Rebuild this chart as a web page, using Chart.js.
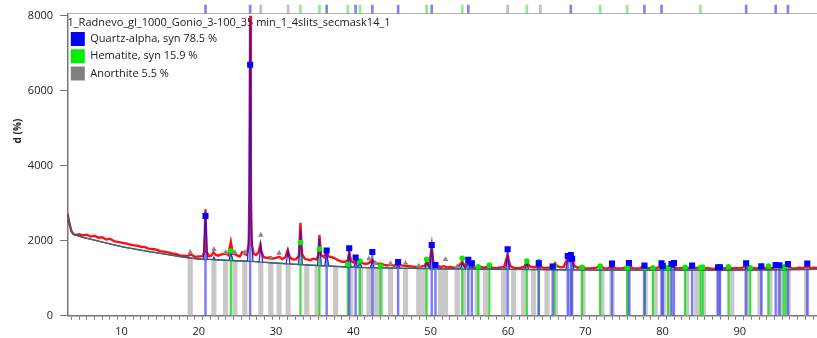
<!DOCTYPE html>
<html>
<head>
<meta charset="utf-8">
<script src="https://cdn.jsdelivr.net/npm/chart.js@4/dist/chart.umd.min.js"></script>
<style>
  html, body { margin: 0; padding: 0; background: #ffffff; }
  #grafico-wrap { width: 817px; height: 338px; }
</style>
</head>
<body>
<div id="grafico-wrap"><canvas id="grafico-xrd" width="817" height="338"></canvas></div>
<script>
// Padrão medido (2theta, contagens)
const medido = [
  [3.0, 2720], [3.25, 2450], [3.5, 2250], [3.75, 2180], [4.0, 2150], [4.5, 2170], [5.0, 2140], [5.5, 2160],
  [6.0, 2110], [6.5, 2130], [7.0, 2080], [7.5, 2090], [8.0, 2030], [8.5, 2050], [9.0, 1990], [9.5, 1970],
  [10.0, 1950], [10.5, 1930], [11.0, 1900], [11.5, 1880], [12.0, 1870], [12.5, 1840], [13.0, 1830], [13.5, 1790],
  [14.0, 1780], [14.5, 1760], [15.0, 1720], [15.5, 1710], [16.0, 1690], [16.5, 1660], [17.0, 1650], [17.5, 1610],
  [18.0, 1600], [18.5, 1590], [19.0, 1630], [19.5, 1570], [20.0, 1580], [20.5, 1590], [20.7, 1700], [20.86, 2840],
  [21.0, 1700], [21.3, 1590], [21.6, 1600], [21.9, 1690], [22.2, 1620], [22.5, 1600], [23.0, 1640], [23.5, 1660],
  [23.8, 1620], [24.14, 1970], [24.4, 1650], [24.7, 1640], [25.0, 1600], [25.3, 1580], [25.6, 1690], [25.9, 1650],
  [26.2, 1620], [26.45, 1900], [26.55, 3400], [26.64, 8000], [26.73, 3300], [26.85, 1900], [27.1, 1650], [27.4, 1620],
  [27.7, 1680], [27.95, 1890], [28.1, 1700], [28.4, 1560], [28.8, 1540], [29.3, 1560], [29.6, 1520], [30.0, 1540],
  [30.4, 1570], [30.8, 1510], [31.2, 1560], [31.5, 1750], [31.8, 1540], [32.2, 1500], [32.6, 1510], [32.95, 1600],
  [33.15, 2480], [33.35, 1650], [33.7, 1520], [34.0, 1500], [34.4, 1480], [34.8, 1520], [35.2, 1500], [35.45, 1600],
  [35.61, 2150], [35.8, 1620], [36.2, 1560], [36.54, 1720], [36.8, 1580], [37.2, 1560], [37.6, 1530], [38.0, 1480],
  [38.5, 1440], [39.0, 1440], [39.28, 1480], [39.46, 1690], [39.7, 1460], [40.0, 1420], [40.29, 1480], [40.6, 1420],
  [40.85, 1460], [41.2, 1400], [41.6, 1380], [42.0, 1400], [42.45, 1490], [42.8, 1400], [43.2, 1380], [43.52, 1390],
  [43.9, 1360], [44.3, 1340], [44.8, 1360], [45.3, 1330], [45.79, 1400], [46.2, 1340], [46.7, 1330], [47.2, 1320],
  [47.7, 1310], [48.2, 1300], [48.7, 1310], [49.2, 1330], [49.48, 1440], [49.8, 1330], [50.14, 1860], [50.35, 1390],
  [50.62, 1400], [50.9, 1320], [51.3, 1300], [51.7, 1320], [52.1, 1290], [52.5, 1300], [53.0, 1280], [53.5, 1290],
  [54.09, 1440], [54.4, 1320], [54.87, 1480], [55.1, 1360], [55.33, 1390], [55.6, 1290], [56.0, 1280], [56.5, 1300],
  [57.0, 1280], [57.59, 1330], [58.0, 1280], [58.5, 1270], [59.0, 1290], [59.5, 1300], [59.96, 1620], [60.3, 1320],
  [60.7, 1280], [61.2, 1270], [61.7, 1280], [62.1, 1300], [62.45, 1430], [62.8, 1320], [63.2, 1290], [63.6, 1290],
  [63.99, 1400], [64.4, 1290], [64.8, 1270], [65.3, 1280], [65.79, 1330], [66.1, 1400], [66.4, 1320], [66.8, 1290],
  [67.2, 1300], [67.74, 1540], [67.95, 1480], [68.14, 1560], [68.31, 1500], [68.6, 1330], [69.0, 1280], [69.6, 1310],
  [70.0, 1270], [70.5, 1260], [71.0, 1270], [71.5, 1280], [71.94, 1330], [72.4, 1270], [72.9, 1260], [73.47, 1330],
  [73.9, 1270], [74.4, 1260], [74.9, 1270], [75.3, 1290], [75.66, 1350], [76.1, 1270], [76.6, 1260], [77.1, 1270],
  [77.67, 1320], [78.1, 1260], [78.6, 1280], [79.1, 1270], [79.5, 1290], [79.88, 1360], [80.2, 1310], [80.7, 1290],
  [81.17, 1330], [81.49, 1310], [81.9, 1260], [82.4, 1270], [82.9, 1280], [83.3, 1260], [83.84, 1310], [84.3, 1270],
  [84.9, 1290], [85.4, 1260], [85.9, 1270], [86.4, 1250], [86.9, 1260], [87.44, 1300], [87.9, 1260], [88.5, 1280],
  [89.0, 1260], [89.5, 1270], [90.0, 1260], [90.4, 1280], [90.83, 1330], [91.3, 1280], [91.8, 1270], [92.3, 1260],
  [92.79, 1300], [93.3, 1270], [93.8, 1280], [94.3, 1270], [94.65, 1300], [95.14, 1290], [95.6, 1270], [96.0, 1280],
  [96.24, 1310], [96.7, 1270], [97.2, 1260], [97.7, 1280], [98.2, 1270], [98.74, 1320], [99.2, 1270], [99.6, 1280],
  [100.0, 1270]
];

// Perfil calculado
const calculado = [
  [3.0, 2700], [3.3, 2450], [3.6, 2220], [3.9, 2160], [5.0, 2090], [7.0, 1990], [10.0, 1840], [13.0, 1730],
  [16.0, 1630], [18.0, 1560], [20.0, 1512], [20.6, 1505], [20.86, 2750], [21.1, 1505], [21.8, 1500], [21.95, 1560],
  [22.1, 1498], [23.9, 1475], [24.14, 1700], [24.4, 1472], [26.3, 1455], [26.5, 2300], [26.64, 7900], [26.78, 2300],
  [27.0, 1450], [27.8, 1435], [28.02, 1880], [28.25, 1430], [31.3, 1385], [31.55, 1730], [31.8, 1380], [32.9, 1365],
  [33.15, 2280], [33.4, 1360], [35.35, 1340], [35.61, 2050], [35.85, 1336], [36.3, 1332], [36.54, 1680], [36.8, 1328],
  [39.2, 1300], [39.46, 1650], [39.7, 1297], [40.05, 1294], [40.29, 1440], [40.55, 1290], [40.85, 1420], [41.1, 1288],
  [42.2, 1283], [42.45, 1470], [42.7, 1282], [45.55, 1270], [45.79, 1380], [46.05, 1268], [49.25, 1256], [49.48, 1400],
  [49.9, 1254], [50.14, 1800], [50.4, 1253], [50.62, 1340], [50.85, 1252], [53.85, 1247], [54.09, 1400], [54.5, 1246],
  [54.87, 1440], [55.1, 1245], [55.33, 1340], [55.55, 1244], [59.7, 1238], [59.96, 1580], [60.2, 1237], [62.2, 1234],
  [62.45, 1390], [62.7, 1233], [63.75, 1231], [63.99, 1360], [64.25, 1230], [67.5, 1226], [67.74, 1500], [67.95, 1440],
  [68.14, 1520], [68.31, 1470], [68.55, 1224], [73.2, 1217], [73.47, 1300], [73.7, 1217], [75.4, 1215], [75.66, 1320],
  [75.9, 1215], [79.6, 1212], [79.88, 1330], [80.2, 1212], [81.0, 1212], [81.17, 1300], [81.49, 1290], [81.7, 1212],
  [90.6, 1218], [90.83, 1300], [91.1, 1218], [100.0, 1235]
];

// Linha de fundo (background)
const fundo = [
  [3.0, 2700], [3.3, 2450], [3.6, 2220], [3.9, 2160], [5.0, 2090], [6.0, 2040], [7.0, 1990], [8.0, 1940],
  [9.0, 1890], [10.0, 1840], [11.0, 1800], [12.0, 1765], [13.0, 1730], [14.0, 1695], [15.0, 1664], [16.0, 1630],
  [17.0, 1595], [18.0, 1560], [19.0, 1530], [20.0, 1512], [22.0, 1490], [24.0, 1470], [26.0, 1455], [28.0, 1430],
  [30.0, 1400], [32.0, 1375], [34.0, 1350], [36.0, 1330], [38.0, 1310], [40.0, 1290], [45.0, 1270], [50.0, 1253],
  [55.0, 1245], [60.0, 1237], [65.0, 1228], [70.0, 1220], [75.0, 1215], [80.0, 1212], [85.0, 1212], [90.0, 1218],
  [95.0, 1225], [100.0, 1235]
];

// Fases de referência (posição, intensidade)
const quartzo = [
  [20.86, 2660], [26.64, 6690], [36.54, 1740], [39.46, 1800], [40.29, 1550], [42.45, 1700], [45.79, 1430],
  [50.14, 1885], [50.62, 1350], [54.87, 1490], [55.33, 1400], [59.96, 1770], [63.99, 1400], [65.79, 1310],
  [67.74, 1590], [68.14, 1620], [68.31, 1520], [73.47, 1390], [75.66, 1405], [77.67, 1335], [79.88, 1400],
  [80.04, 1325], [81.17, 1380], [81.49, 1405], [83.84, 1335], [87.2, 1290], [87.44, 1290], [90.83, 1400],
  [92.79, 1320], [94.65, 1350], [95.14, 1345], [96.24, 1380], [98.74, 1390]
];
const hematita = [
  [24.14, 1725], [33.15, 1950], [35.61, 1780], [39.28, 1370], [40.85, 1460], [43.52, 1325], [49.48, 1505],
  [54.09, 1530], [56.15, 1307], [57.59, 1352], [62.45, 1460], [63.99, 1440], [66.03, 1325], [69.6, 1290],
  [71.94, 1325], [75.43, 1280], [77.73, 1280], [78.76, 1280], [80.71, 1280], [82.94, 1290], [84.92, 1280],
  [85.2, 1300], [88.54, 1307], [91.35, 1280], [93.72, 1325], [95.66, 1290], [95.9, 1310]
];
const anortitaBarras = [
  [18.88, 1545], [21.95, 1495], [23.46, 1478], [24.66, 1468], [25.95, 1455], [28.02, 1430], [29.31, 1410],
  [30.38, 1398], [31.55, 1382], [33.96, 1352], [35.3, 1340], [37.7, 1312], [39.65, 1294], [40.94, 1287],
  [42.01, 1283], [42.87, 1280], [43.52, 1278], [44.81, 1272], [46.75, 1265], [48.47, 1258], [49.12, 1256],
  [51.27, 1251], [51.92, 1250], [53.43, 1248], [54.28, 1246], [56.01, 1244], [57.09, 1242], [59.45, 1238],
  [60.74, 1236], [62.04, 1234], [63.33, 1232], [65.06, 1228], [66.13, 1227], [68.07, 1224], [69.71, 1221],
  [72.17, 1218], [73.46, 1217], [75.6, 1215], [77.76, 1214], [79.05, 1213], [80.12, 1212], [80.99, 1212],
  [83.15, 1212], [84.44, 1212], [85.29, 1212], [87.23, 1214], [88.96, 1216], [90.9, 1218], [92.62, 1221],
  [93.91, 1223], [95.2, 1225], [96.27, 1227], [98.65, 1232]
];
const anortitaPicos = [
  [18.88, 1690], [21.95, 1770], [23.46, 1690], [24.66, 1690], [25.95, 1690], [28.02, 2150], [29.31, 1520],
  [30.38, 1670], [42.01, 1520], [42.87, 1400], [44.81, 1390], [46.75, 1400], [48.47, 1330], [51.92, 1500],
  [53.43, 1310]
];

// Marcas da faixa superior
const faixaQuartzo = [20.86, 26.64, 36.54, 40.29, 42.45, 45.79, 50.14, 54.87, 68.14, 77.67, 79.88, 90.83, 94.65, 96.24];
const faixaHematita = [33.15, 35.61, 39.28, 40.85, 49.48, 54.09, 62.45, 71.94, 75.43, 84.92];
const faixaAnortita = [28.02, 31.55, 59.96, 64.2];
const faixaBase = [[3, 0], [100, 0]];

const ticksY = [0, 2000, 4000, 6000, 8000];
const tituloLegenda = "1_Radnevo_gl_1000_Gonio_3-100_35 min_1_4slits_secmask14_1";
const nomesFases = ["Quartz-alpha, syn 78.5 %", "Hematite, syn 15.9 %", "Anorthite 5.5 %"];
const coresFases = ["#0000ff", "#00ee00", "#808080"];

const pts = (lista) => lista.map(p => ({ x: p[0], y: p[1] }));
const marcas = (lista) => lista.map(x => ({ x: x, y: 0.9 }));

Chart.defaults.font.family = "'Open Sans', 'Noto Sans', sans-serif";
Chart.defaults.font.size = 11;
Chart.defaults.color = "#222222";

const barra = (dados, cor, largura, ordem, eixo) => ({
  type: "bar",
  data: dados,
  backgroundColor: cor,
  borderWidth: 0,
  barThickness: largura,
  grouped: false,
  order: ordem,
  yAxisID: eixo
});

const marcador = (dados, cor, estilo, raio, ordem) => ({
  type: "line",
  data: dados,
  showLine: false,
  pointStyle: estilo,
  pointRadius: raio,
  backgroundColor: cor,
  borderColor: cor,
  pointBorderWidth: 0,
  order: ordem,
  yAxisID: "y"
});

// zera o espaço extra que o Chart.js reserva para os rótulos
const semPadding = (eixo) => {
  eixo.paddingTop = 0;
  eixo.paddingBottom = 0;
  eixo.paddingLeft = 0;
  eixo.paddingRight = 0;
};

const dadosGrafico = {
  datasets: [
    barra(pts(anortitaBarras), "rgba(190,190,190,0.85)", 4.5, 9, "y"),
    barra(pts(hematita), "rgba(40,220,40,0.9)", 1.5, 8, "y"),
    barra(pts(quartzo), "rgba(80,80,240,0.75)", 1.8, 7, "y"),
    {
      type: "line", data: pts(medido), borderColor: "#ff1010", borderWidth: 2.4,
      pointRadius: 0, tension: 0, order: 6, yAxisID: "y"
    },
    {
      type: "line", data: pts(calculado), borderColor: "rgba(20,20,235,0.9)", borderWidth: 1.3,
      pointRadius: 0, tension: 0, order: 5, yAxisID: "y"
    },
    {
      type: "line", data: pts(fundo), borderColor: "#3b6f5a", borderWidth: 1.3,
      pointRadius: 0, tension: 0.3, order: 4, yAxisID: "y"
    },
    marcador(pts(anortitaPicos), "#8a8a8a", "triangle", 3.2, 3),
    marcador(pts(hematita), "#00ee00", "circle", 2.8, 2),
    marcador(pts(quartzo), "#0000ff", "rect", 4.3, 1),
    barra(marcas(faixaQuartzo), "rgba(90,90,235,0.75)", 2, 1, "yTop"),
    barra(marcas(faixaHematita), "rgba(110,235,110,0.8)", 2, 1, "yTop"),
    barra(marcas(faixaAnortita), "rgba(180,180,180,0.85)", 2, 1, "yTop"),
    {
      type: "line", data: pts(faixaBase), borderColor: "#9a9a9a", borderWidth: 1.5,
      pointRadius: 0, order: 0, yAxisID: "yTop"
    }
  ]
};

const configGrafico = {
  type: "line",
  data: dadosGrafico,
  options: {
    responsive: false,
    animation: false,
    events: [],
    layout: { autoPadding: false, padding: { top: 4, right: 0, bottom: 0, left: 0 } },
    plugins: {
      tooltip: { enabled: false },
      legend: {
        position: "chartArea",
        align: "start",
        title: {
          display: true,
          text: tituloLegenda,
          position: "start",
          padding: { top: 17.5, bottom: -2 },
          font: { size: 11 }
        },
        labels: {
          boxWidth: 14,
          boxHeight: 14,
          padding: 3.3,
          font: { size: 11 },
          generateLabels: () => nomesFases.map((nome, i) => ({
            text: nome, fillStyle: coresFases[i], strokeStyle: coresFases[i],
            lineWidth: 0, hidden: false, datasetIndex: i
          }))
        }
      }
    },
    scales: {
      x: {
        type: "linear",
        min: 3,
        max: 100,
        offset: false,
        afterFit: (eixo) => { semPadding(eixo); eixo.height = 22.3; },
        grid: { display: true, drawOnChartArea: false, tickLength: 4, tickColor: "#777777" },
        border: { color: "#777777", width: 1.5 },
        ticks: {
          stepSize: 1,
          maxTicksLimit: 200,
          autoSkip: false,
          maxRotation: 0,
          padding: 6,
          callback: (v) => (v % 10 === 0 && v < 100) ? String(v) : ""
        }
      },
      y: {
        type: "linear",
        position: "left",
        stack: "v",
        stackWeight: 30.17,
        min: 0,
        max: 8045,
        afterBuildTicks: (eixo) => { eixo.ticks = ticksY.map(v => ({ value: v })); },
        afterFit: (eixo) => { semPadding(eixo); eixo.width = 67.5; },
        grid: { display: true, drawOnChartArea: false, tickLength: 7.5, tickColor: "#777777" },
        border: { color: "#777777", width: 1.5 },
        ticks: {
          padding: 7,
          callback: (v) => String(v)
        },
        title: {
          display: true,
          text: "                          d (%)",
          font: { size: 10, weight: "bold" },
          padding: { top: 12, bottom: 3 }
        }
      },
      yTop: {
        type: "linear",
        position: "left",
        stack: "v",
        stackWeight: 1,
        min: 0,
        max: 1,
        afterFit: (eixo) => { semPadding(eixo); },
        grid: { display: false },
        border: { display: false },
        ticks: { display: false }
      }
    }
  }
};

let graficoXrd = new Chart(document.getElementById("grafico-xrd"), configGrafico);
</script>
</body>
</html>
